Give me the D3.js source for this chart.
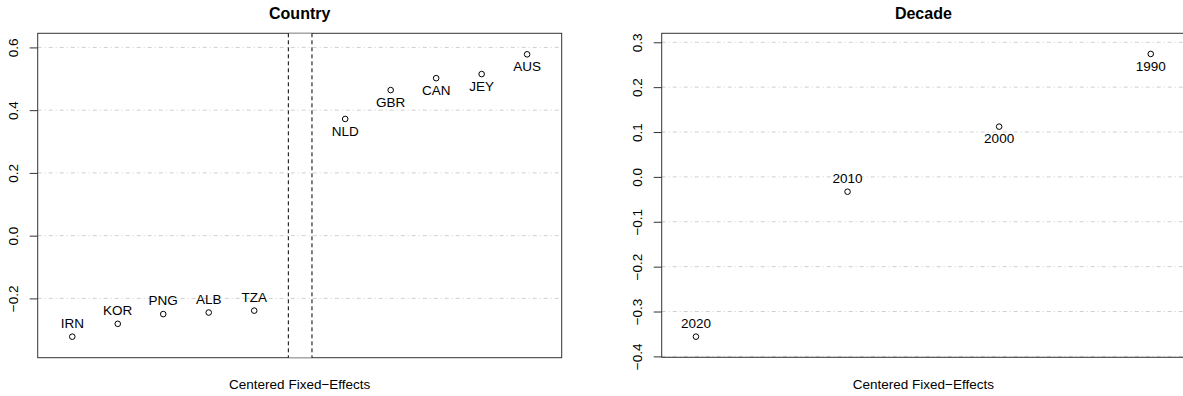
<!DOCTYPE html>
<html>
<head>
<meta charset="utf-8">
<script src="https://cdn.jsdelivr.net/npm/d3@7"></script>
<style>
  body { margin: 0; background: #fff; }
  svg { display: block; font-family: "Liberation Sans", Arial, sans-serif; }
</style>
</head>
<body>
<div id="root"></div>
<script>
// values
const countryNames = ["IRN", "KOR", "PNG", "ALB", "TZA", "NLD", "GBR", "CAN", "JEY", "AUS"];
const countryValues = [-0.322, -0.281, -0.250, -0.245, -0.239, 0.372, 0.464, 0.502, 0.515, 0.578];
const countryTicks = [-0.2, 0.0, 0.2, 0.4, 0.6];

const decadeNames = ["2020", "2010", "2000", "1990"];
const decadeValues = [-0.356, -0.033, 0.112, 0.274];
const decadeTicks = [-0.4, -0.3, -0.2, -0.1, 0.0, 0.1, 0.2, 0.3];

const W = 1183, H = 396;
const FS = 13.5;

const svg = d3.select('#root').append('svg')
  .attr('width', W)
  .attr('height', H);

const fmt = v => d3.format('.1f')(v).replace('-', '\u2212');

const drawPanel = (opts) => {
  const { title, names, values, ticks, xPos, xDomain, yDomain, left, right, top, bottom, gap } = opts;
  const x = d3.scaleLinear().domain(xDomain).range([left, right]);
  const y = d3.scaleLinear().domain(yDomain).range([bottom, top]);
  const g = svg.append('g');

  // grid
  g.selectAll('line.grid').data(ticks).join('line')
    .attr('class', 'grid')
    .attr('x1', left).attr('x2', right)
    .attr('y1', d => y(d)).attr('y2', d => y(d))
    .attr('stroke', '#cfcfcf')
    .attr('stroke-dasharray', '4,3,1,3');

  // box
  g.append('rect')
    .attr('x', left).attr('y', top)
    .attr('width', right - left).attr('height', bottom - top)
    .attr('fill', 'none')
    .attr('stroke', '#333');

  // gap between top and bottom groups
  if (gap) {
    g.selectAll('line.gapedge').data([top, bottom]).join('line')
      .attr('class', 'gapedge')
      .attr('x1', x(gap[0])).attr('x2', x(gap[1]))
      .attr('y1', d => d).attr('y2', d => d)
      .attr('stroke', '#bbb');
    g.selectAll('line.gap').data(gap).join('line')
      .attr('class', 'gap')
      .attr('x1', d => x(d)).attr('x2', d => x(d))
      .attr('y1', top).attr('y2', bottom)
      .attr('stroke', '#000')
      .attr('stroke-dasharray', '4,3');
  }

  // y axis
  const axis = g.append('g')
    .attr('transform', `translate(${left},0)`)
    .call(d3.axisLeft(y).tickValues(ticks).tickSize(8).tickFormat(fmt));
  axis.select('.domain').remove();
  axis.selectAll('.tick line').attr('stroke', '#333');
  axis.selectAll('.tick text')
    .attr('font-size', FS)
    .attr('font-family', '"Liberation Sans", Arial, sans-serif')
    .attr('fill', '#000')
    .attr('text-anchor', 'middle')
    .attr('x', null).attr('dy', null)
    .attr('transform', 'translate(-19.5,0) rotate(-90)');

  // points
  const pts = names.map((n, i) => ({ name: n, v: values[i], pos: xPos(i) }));
  g.selectAll('circle.pt').data(pts).join('circle')
    .attr('class', 'pt')
    .attr('cx', d => x(d.pos))
    .attr('cy', d => y(d.v))
    .attr('r', 2.8)
    .attr('fill', 'none')
    .attr('stroke', '#000');

  g.selectAll('text.lab').data(pts).join('text')
    .attr('class', 'lab')
    .attr('x', d => x(d.pos))
    .attr('y', d => y(d.v) + (d.v < 0 ? -8.6 : 16.8))
    .attr('text-anchor', 'middle')
    .attr('font-size', FS)
    .text(d => d.name);

  // titles
  const cx = (left + right) / 2;
  g.append('text')
    .attr('x', cx).attr('y', 19)
    .attr('text-anchor', 'middle')
    .attr('font-size', 16)
    .attr('font-weight', 'bold')
    .text(title);
  g.append('text')
    .attr('x', cx).attr('y', 388.5)
    .attr('text-anchor', 'middle')
    .attr('font-size', FS)
    .text('Centered Fixed\u2212Effects');
};

drawPanel({
  title: 'Country',
  names: countryNames,
  values: countryValues,
  ticks: countryTicks,
  xPos: i => (i < 5 ? i + 1 : i + 2),
  xDomain: [0.24, 11.76],
  yDomain: [-0.389, 0.645],
  left: 37.7, right: 561.7, top: 33.3, bottom: 357.7,
  gap: [5.75, 6.27],
});

drawPanel({
  title: 'Decade',
  names: decadeNames,
  values: decadeValues,
  ticks: decadeTicks,
  xPos: i => i + 1,
  xDomain: [0.774, 4.226],
  yDomain: [-0.402, 0.320],
  left: 661.7, right: 1185, top: 33.3, bottom: 357.3,
  gap: null,
});
</script>
</body>
</html>
